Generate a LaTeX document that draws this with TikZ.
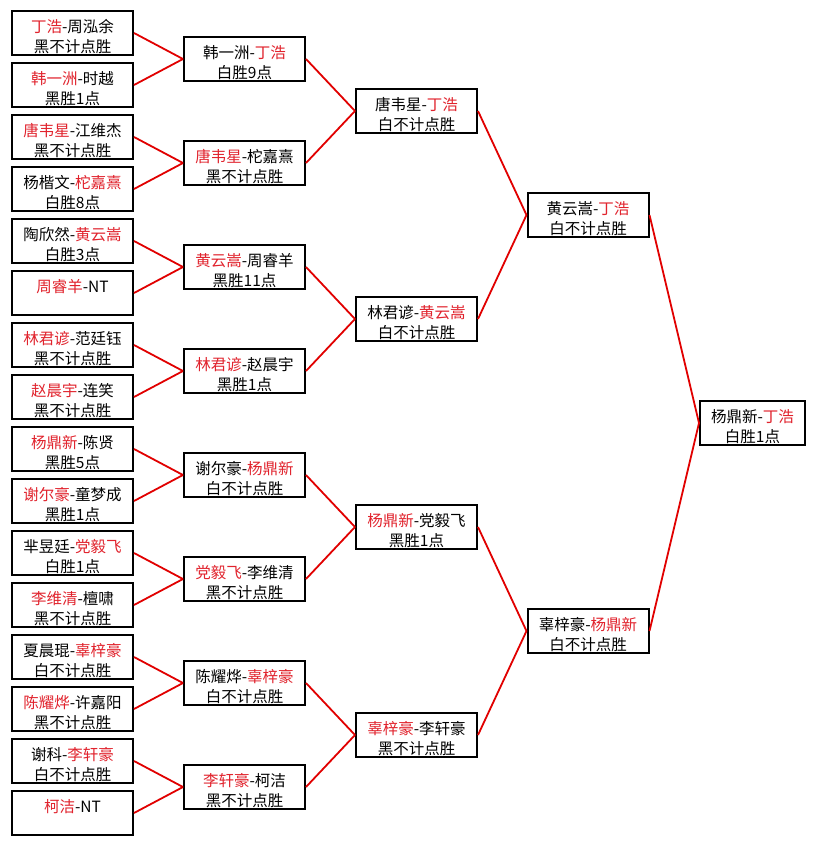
\documentclass[tikz,border=0pt]{standalone}
\usepackage{fontspec}
\setmainfont{Noto Sans CJK SC}
\definecolor{nred}{RGB}{225,35,45}
\definecolor{lred}{RGB}{225,0,0}
\newcommand{\rd}[1]{\textcolor{nred}{#1}}
\newcommand{\tstrut}{\rule{0pt}{20pt}}
\begin{document}
\begin{tikzpicture}[x=1pt,y=-1pt,
  mbox/.style={draw=black,line width=2pt,fill=white,minimum width=121pt,minimum height=44pt,inner sep=0pt,align=center,font=\fontsize{15.5}{20}\selectfont},
  fbox/.style={mbox,minimum width=105pt},
  link/.style={draw=lred,line width=1.8pt}]
\fill[white] (0,0) rectangle (816,845);
\useasboundingbox (0,0) rectangle (816,845);
% round 1
\node[mbox] (a1)  at (72.5,33)  {\tstrut\rd{丁浩}-周泓余\\黑不计点胜};
\node[mbox] (a2)  at (72.5,85)  {\tstrut\rd{韩一洲}-时越\\黑胜1点};
\node[mbox] (a3)  at (72.5,137) {\tstrut\rd{唐韦星}-江维杰\\黑不计点胜};
\node[mbox] (a4)  at (72.5,189) {\tstrut 杨楷文-\rd{柁嘉熹}\\白胜8点};
\node[mbox] (a5)  at (72.5,241) {\tstrut 陶欣然-\rd{黄云嵩}\\白胜3点};
\node[mbox] (a6)  at (72.5,293) {\tstrut\rd{周睿羊}-NT\\\phantom{黑}};
\node[mbox] (a7)  at (72.5,345) {\tstrut\rd{林君谚}-范廷钰\\黑不计点胜};
\node[mbox] (a8)  at (72.5,397) {\tstrut\rd{赵晨宇}-连笑\\黑不计点胜};
\node[mbox] (a9)  at (72.5,449) {\tstrut\rd{杨鼎新}-陈贤\\黑胜5点};
\node[mbox] (a10) at (72.5,501) {\tstrut\rd{谢尔豪}-童梦成\\黑胜1点};
\node[mbox] (a11) at (72.5,553) {\tstrut 芈昱廷-\rd{党毅飞}\\白胜1点};
\node[mbox] (a12) at (72.5,605) {\tstrut\rd{李维清}-檀啸\\黑不计点胜};
\node[mbox] (a13) at (72.5,657) {\tstrut 夏晨琨-\rd{辜梓豪}\\白不计点胜};
\node[mbox] (a14) at (72.5,709) {\tstrut\rd{陈耀烨}-许嘉阳\\黑不计点胜};
\node[mbox] (a15) at (72.5,761) {\tstrut 谢科-\rd{李轩豪}\\白不计点胜};
\node[mbox] (a16) at (72.5,813) {\tstrut\rd{柯洁}-NT\\\phantom{黑}};
% round 2
\node[mbox] (b1) at (244.5,59)  {\tstrut 韩一洲-\rd{丁浩}\\白胜9点};
\node[mbox] (b2) at (244.5,163) {\tstrut\rd{唐韦星}-柁嘉熹\\黑不计点胜};
\node[mbox] (b3) at (244.5,267) {\tstrut\rd{黄云嵩}-周睿羊\\黑胜11点};
\node[mbox] (b4) at (244.5,371) {\tstrut\rd{林君谚}-赵晨宇\\黑胜1点};
\node[mbox] (b5) at (244.5,475) {\tstrut 谢尔豪-\rd{杨鼎新}\\白不计点胜};
\node[mbox] (b6) at (244.5,579) {\tstrut\rd{党毅飞}-李维清\\黑不计点胜};
\node[mbox] (b7) at (244.5,683) {\tstrut 陈耀烨-\rd{辜梓豪}\\白不计点胜};
\node[mbox] (b8) at (244.5,787) {\tstrut\rd{李轩豪}-柯洁\\黑不计点胜};
% round 3
\node[mbox] (c1) at (416.5,111) {\tstrut 唐韦星-\rd{丁浩}\\白不计点胜};
\node[mbox] (c2) at (416.5,319) {\tstrut 林君谚-\rd{黄云嵩}\\白不计点胜};
\node[mbox] (c3) at (416.5,527) {\tstrut\rd{杨鼎新}-党毅飞\\黑胜1点};
\node[mbox] (c4) at (416.5,735) {\tstrut\rd{辜梓豪}-李轩豪\\黑不计点胜};
% round 4
\node[mbox] (d1) at (588,215) {\tstrut 黄云嵩-\rd{丁浩}\\白不计点胜};
\node[mbox] (d2) at (588,631) {\tstrut 辜梓豪-\rd{杨鼎新}\\白不计点胜};
% final
\node[fbox] (f) at (752.5,423) {\tstrut 杨鼎新-\rd{丁浩}\\白胜1点};
% connectors
\foreach \c/\p in {a1/b1,a2/b1,a3/b2,a4/b2,a5/b3,a6/b3,a7/b4,a8/b4,a9/b5,a10/b5,a11/b6,a12/b6,a13/b7,a14/b7,a15/b8,a16/b8,b1/c1,b2/c1,b3/c2,b4/c2,b5/c3,b6/c3,b7/c4,b8/c4,c1/d1,c2/d1,c3/d2,c4/d2,d1/f,d2/f}
  \draw[link] (\c.east) -- (\p.west);
\end{tikzpicture}
\end{document}
